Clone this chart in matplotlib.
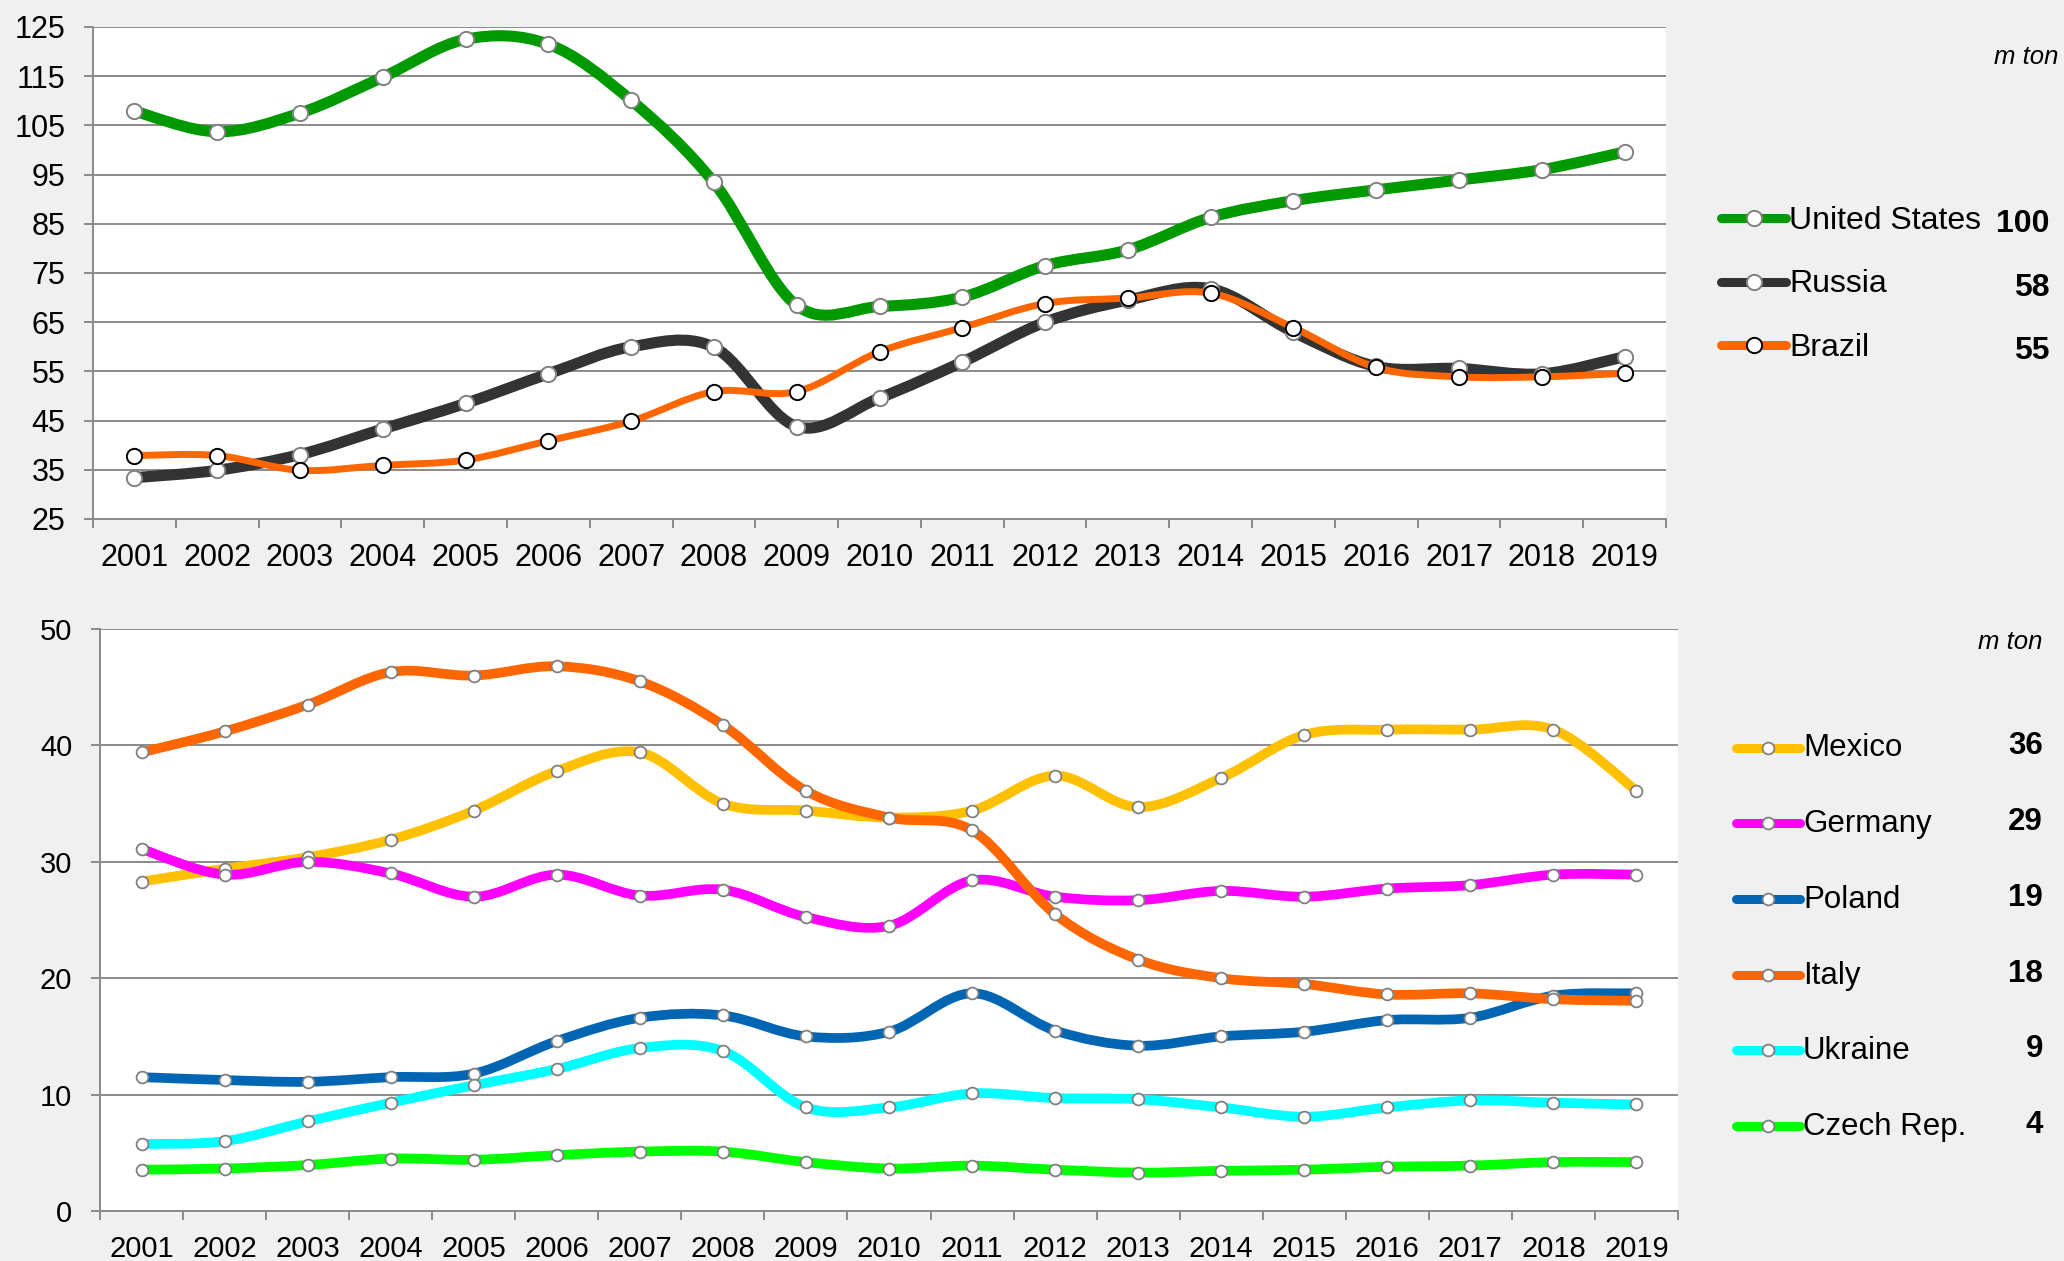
import numpy as np
import matplotlib
matplotlib.use("Agg")
import matplotlib.pyplot as plt
from matplotlib.path import Path
from matplotlib.patches import PathPatch
from matplotlib.lines import Line2D

plt.rcParams['font.family'] = ['Liberation Sans', 'DejaVu Sans']

years = [str(y) for y in range(2001, 2020)]

# million tons, top panel
united_states = [107.9, 103.7, 107.5, 114.8, 122.5, 121.5, 110.1, 93.4, 68.4, 68.2,
                 70.1, 76.5, 79.7, 86.3, 89.7, 91.9, 93.9, 96.0, 99.6]
russia = [33.4, 34.9, 38.1, 43.3, 48.5, 54.5, 60.0, 59.9, 43.8, 49.6,
          56.9, 65.0, 69.5, 71.8, 63.0, 56.0, 55.6, 54.5, 58.0]
brazil = [37.9, 37.9, 34.9, 35.9, 37.0, 40.9, 44.9, 50.9, 50.9, 59.0,
          63.9, 68.8, 69.9, 70.9, 63.9, 55.8, 53.9, 53.9, 54.6]

# million tons, bottom panel
mexico = [28.3, 29.4, 30.4, 31.9, 34.4, 37.8, 39.4, 35.0, 34.4, 33.8,
          34.4, 37.4, 34.7, 37.2, 40.9, 41.35, 41.35, 41.35, 36.1]
germany = [31.1, 28.9, 30.0, 29.0, 27.0, 28.9, 27.1, 27.6, 25.25, 24.5,
           28.4, 27.0, 26.7, 27.5, 27.0, 27.7, 28.0, 28.9, 28.9]
poland = [11.5, 11.25, 11.1, 11.5, 11.8, 14.6, 16.6, 16.8, 15.0, 15.4,
          18.7, 15.5, 14.2, 15.0, 15.4, 16.4, 16.6, 18.5, 18.7]
italy = [39.4, 41.2, 43.5, 46.3, 46.0, 46.8, 45.5, 41.75, 36.1, 33.8,
         32.7, 25.5, 21.6, 20.0, 19.5, 18.6, 18.7, 18.2, 18.05]
ukraine = [5.75, 6.0, 7.7, 9.3, 10.8, 12.2, 14.0, 13.75, 8.9, 8.9,
           10.1, 9.7, 9.6, 8.9, 8.1, 8.9, 9.5, 9.3, 9.15]
czech = [3.55, 3.65, 3.95, 4.5, 4.4, 4.8, 5.1, 5.1, 4.2, 3.65,
         3.9, 3.55, 3.3, 3.45, 3.55, 3.8, 3.9, 4.2, 4.2]

top_names = ['United States', 'Russia', 'Brazil']
top_series = [united_states, russia, brazil]
top_colors = ['#009900', '#333333', '#ff6600']
top_widths = [8, 8, 5]
top_edges = ['#808080', '#808080', '#000000']
top_totals = ['100', '58', '55']

bottom_names = ['Mexico', 'Germany', 'Poland', 'Italy', 'Ukraine', 'Czech Rep.']
bottom_series = [mexico, germany, poland, italy, ukraine, czech]
bottom_colors = ['#ffc000', '#ff00ff', '#0066b3', '#ff6600', '#00ffff', '#00ff00']
bottom_totals = ['36', '29', '19', '18', '9', '4']

BG = '#f0f0f0'
GRID = '#8a8a8a'
W, H = 2064, 1261


def smooth_path(x, y):
    # cubic bezier through every point, like a spreadsheet "smoothed line"
    n = len(x)
    verts = [(x[0], y[0])]
    codes = [Path.MOVETO]
    for i in range(n - 1):
        a = max(i - 1, 0)
        d = min(i + 2, n - 1)
        c1 = (x[i] + (x[i + 1] - x[a]) / 6, y[i] + (y[i + 1] - y[a]) / 6)
        c2 = (x[i + 1] - (x[d] - x[i]) / 6, y[i + 1] - (y[d] - y[i]) / 6)
        verts += [c1, c2, (x[i + 1], y[i + 1])]
        codes += [Path.CURVE4] * 3
    return Path(verts, codes)


def style_axes(ax, ymin, ymax, step, fs):
    ax.set_facecolor('white')
    ax.set_xlim(0, len(years))
    ax.set_ylim(ymin, ymax)
    ax.set_yticks(np.arange(ymin, ymax + 1, step))
    ax.set_xticks(np.arange(len(years)) + 0.5, labels=years)
    ax.set_xticks(np.arange(len(years) + 1), minor=True)
    ax.tick_params(axis='x', which='major', length=0, pad=17, labelsize=fs)
    ax.tick_params(axis='x', which='minor', length=6.5, width=1.4, color=GRID)
    ax.tick_params(axis='y', length=6.5, width=1.4, color=GRID, pad=13.5, labelsize=fs)
    ax.grid(axis='y', color=GRID, lw=1.4)
    ax.set_axisbelow(True)
    for s in ['top', 'right']:
        ax.spines[s].set_visible(False)
    for s in ['left', 'bottom']:
        ax.spines[s].set_color(GRID)
        ax.spines[s].set_linewidth(1.4)


def px(x, y):
    return x / W, 1 - y / H


fig = plt.figure(figsize=(W / 100, H / 100), dpi=100, facecolor=BG)
xs = np.arange(len(years)) + 0.5

# top panel
ax1 = fig.add_axes([93 / W, 1 - 519 / H, (1666 - 93) / W, (519 - 27) / H])
style_axes(ax1, 25, 125, 10, 22)
for vals, c, lw, ec in zip(top_series, top_colors, top_widths, top_edges):
    ax1.add_patch(PathPatch(smooth_path(xs, vals), fc='none', ec=c, lw=lw,
                            capstyle='round', joinstyle='round', zorder=3))
    ax1.plot(xs, vals, ls='none', marker='o', ms=11, mfc='white', mec=ec,
             mew=1.4, zorder=4)

# bottom panel
ax2 = fig.add_axes([100 / W, 1 - 1211 / H, (1678 - 100) / W, (1211 - 629) / H])
style_axes(ax2, 0, 50, 10, 21)
for vals, c in zip(bottom_series, bottom_colors):
    ax2.add_patch(PathPatch(smooth_path(xs, vals), fc='none', ec=c, lw=7,
                            capstyle='round', joinstyle='round', zorder=3))
    ax2.plot(xs, vals, ls='none', marker='o', ms=8.5, mfc='white', mec='#808080',
             mew=1.3, zorder=4)

# legends drawn on the figure
fig.text(*px(2058, 57), 'm ton', fontsize=18.5, style='italic', ha='right', va='center')
for i, (name, c, ec, tot) in enumerate(zip(top_names, top_colors, top_edges, top_totals)):
    yy = 218 + i * 63.5
    fig.add_artist(Line2D([1721 / W, 1786 / W], [1 - yy / H] * 2, color=c, lw=6.5,
                          solid_capstyle='round'))
    fig.add_artist(Line2D([1754 / W], [1 - yy / H], ls='none', marker='o', ms=11,
                          mfc='white', mec=ec, mew=1.4))
    fig.text(*px(1789, yy + 3), name, fontsize=23, ha='left', va='center')
    fig.text(*px(2050, yy + 6), tot, fontsize=23, fontweight='bold', ha='right', va='center')

fig.text(*px(2043, 642), 'm ton', fontsize=18.5, style='italic', ha='right', va='center')
for i, (name, c, tot) in enumerate(zip(bottom_names, bottom_colors, bottom_totals)):
    yy = 747.5 + i * 75.7
    fig.add_artist(Line2D([1736 / W, 1800 / W], [1 - yy / H] * 2, color=c, lw=6.5,
                          solid_capstyle='round'))
    fig.add_artist(Line2D([1768 / W], [1 - yy / H], ls='none', marker='o', ms=8.5,
                          mfc='white', mec='#808080', mew=1.3))
    fig.text(*px(1803, yy + 1), name, fontsize=22.5, ha='left', va='center')
    fig.text(*px(2043, yy - 1), tot, fontsize=22.5, fontweight='bold', ha='right', va='center')

fig.savefig('out.png', dpi=100, facecolor=BG)
